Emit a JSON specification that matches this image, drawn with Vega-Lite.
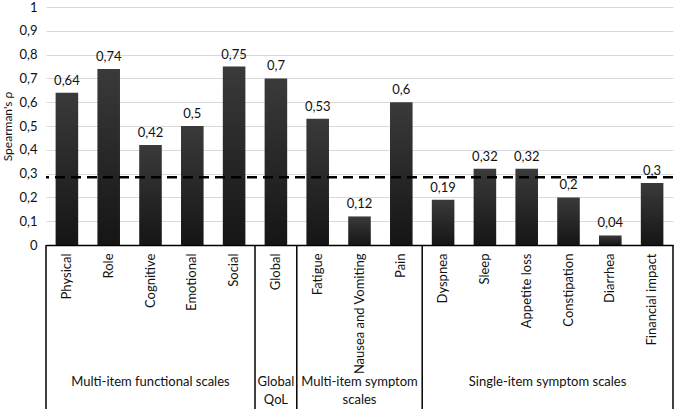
{
  "$schema": "https://vega.github.io/schema/vega-lite/v6.json",
  "width": 627,
  "height": 238,
  "autosize": "none",
  "padding": {"left": 46, "top": 7, "right": 4, "bottom": 164},
  "config": {
    "view": {"stroke": null},
    "font": "Lato",
    "text": {"font": "Lato", "fontSize": 13, "color": "#111"}
  },
  "datasets": {
    "bars": [
      {"scale": "Physical", "group": "Multi-item functional scales", "rho": 0.64, "label": "0,64"},
      {"scale": "Role", "group": "Multi-item functional scales", "rho": 0.74, "label": "0,74"},
      {"scale": "Cognitive", "group": "Multi-item functional scales", "rho": 0.42, "label": "0,42"},
      {"scale": "Emotional", "group": "Multi-item functional scales", "rho": 0.5, "label": "0,5"},
      {"scale": "Social", "group": "Multi-item functional scales", "rho": 0.75, "label": "0,75"},
      {"scale": "Global", "group": "Global QoL", "rho": 0.7, "label": "0,7"},
      {"scale": "Fatigue", "group": "Multi-item symptom scales", "rho": 0.53, "label": "0,53"},
      {"scale": "Nausea and Vomiting", "group": "Multi-item symptom scales", "rho": 0.12, "label": "0,12"},
      {"scale": "Pain", "group": "Multi-item symptom scales", "rho": 0.6, "label": "0,6"},
      {"scale": "Dyspnea", "group": "Single-item symptom scales", "rho": 0.19, "label": "0,19"},
      {"scale": "Sleep", "group": "Single-item symptom scales", "rho": 0.32, "label": "0,32"},
      {"scale": "Appetite loss", "group": "Single-item symptom scales", "rho": 0.32, "label": "0,32"},
      {"scale": "Constipation", "group": "Single-item symptom scales", "rho": 0.2, "label": "0,2"},
      {"scale": "Diarrhea", "group": "Single-item symptom scales", "rho": 0.04, "label": "0,04"},
      {"scale": "Financial impact", "group": "Single-item symptom scales", "rho": 0.26, "label": "0,3"}
    ],
    "threshold": [{"thr": 0.285}],
    "dividersStart": [{"at": "Physical"}, {"at": "Global"}, {"at": "Fatigue"}, {"at": "Dyspnea"}],
    "dividersEnd": [{"at": "Financial impact"}],
    "groupsCentered": [
      {"name": "Multi-item functional scales", "at": "Cognitive"},
      {"name": "Global\nQoL", "at": "Global"},
      {"name": "Multi-item symptom\nscales", "at": "Nausea and Vomiting"}
    ],
    "groupsBetween": [
      {"name": "Single-item symptom scales", "at": "Constipation"}
    ]
  },
  "layer": [
    {
      "data": {"name": "bars"},
      "mark": {"type": "bar", "width": {"band": 0.54},
        "color": {"gradient": "linear", "x1": 0, "y1": 0, "x2": 0, "y2": 1,
          "stops": [{"offset": 0, "color": "#3a3a3a"}, {"offset": 1, "color": "#151515"}]}},
      "encoding": {
        "x": {"field": "scale", "type": "nominal", "sort": null,
          "scale": {"domain": ["Physical", "Role", "Cognitive", "Emotional", "Social", "Global", "Fatigue", "Nausea and Vomiting", "Pain", "Dyspnea", "Sleep", "Appetite loss", "Constipation", "Diarrhea", "Financial impact"], "paddingInner": 0, "paddingOuter": 0},
          "axis": {"title": null, "labelAngle": -90, "labelFont": "Lato", "labelFontSize": 13, "labelColor": "#111", "labelPadding": 8, "ticks": false, "domainColor": "#000", "domainWidth": 1.5, "labelLimit": 200}},
        "y": {"field": "rho", "type": "quantitative", "scale": {"domain": [0, 1], "nice": false},
          "axis": {"title": "Spearman's ρ", "titleFont": "Lato", "titleFontSize": 12, "titleFontWeight": "normal", "titleColor": "#111", "titlePadding": 4,
            "tickCount": 10, "tickMinStep": 0.1,
            "labelOverlap": false,
            "labelExpr": "replace(format(datum.value, '.1~f'), '.', ',')",
            "labelFont": "Lato", "labelFontSize": 13, "labelColor": "#111", "labelPadding": 9,
            "ticks": false, "domain": false, "grid": true, "gridColor": "#d9d9d9", "gridWidth": 1}}
      }
    },
    {
      "data": {"name": "bars"},
      "mark": {"type": "text", "baseline": "bottom", "dy": -5, "fontSize": 13},
      "encoding": {
        "x": {"field": "scale", "type": "nominal", "sort": null},
        "y": {"field": "rho", "type": "quantitative", "scale": {"domain": [0, 1], "nice": false}},
        "text": {"field": "label"}
      }
    },
    {
      "data": {"name": "threshold"},
      "mark": {"type": "rule", "strokeDash": [10, 6], "strokeWidth": 2.5, "color": "#000"},
      "encoding": {
        "y": {"field": "thr", "type": "quantitative", "scale": {"domain": [0, 1], "nice": false}}
      }
    },
    {
      "data": {"name": "dividersStart"},
      "mark": {"type": "rule", "strokeWidth": 1.5, "color": "#000"},
      "encoding": {
        "x": {"field": "at", "type": "nominal", "sort": null, "bandPosition": 0},
        "y": {"datum": 0, "type": "quantitative", "scale": {"domain": [0, 1], "nice": false}},
        "y2": {"datum": -0.7}
      }
    },
    {
      "data": {"name": "dividersEnd"},
      "mark": {"type": "rule", "strokeWidth": 1.5, "color": "#000"},
      "encoding": {
        "x": {"field": "at", "type": "nominal", "sort": null, "bandPosition": 1},
        "y": {"datum": 0, "type": "quantitative", "scale": {"domain": [0, 1], "nice": false}},
        "y2": {"datum": -0.7}
      }
    },
    {
      "data": {"name": "groupsCentered"},
      "mark": {"type": "text", "baseline": "top", "lineBreak": "\n", "lineHeight": 18, "fontSize": 13},
      "encoding": {
        "x": {"field": "at", "type": "nominal", "sort": null, "bandPosition": 0.5},
        "y": {"datum": -0.55, "type": "quantitative", "scale": {"domain": [0, 1], "nice": false}},
        "text": {"field": "name"}
      }
    },
    {
      "data": {"name": "groupsBetween"},
      "mark": {"type": "text", "baseline": "top", "lineBreak": "\n", "lineHeight": 18, "fontSize": 13},
      "encoding": {
        "x": {"field": "at", "type": "nominal", "sort": null, "bandPosition": 0},
        "y": {"datum": -0.55, "type": "quantitative", "scale": {"domain": [0, 1], "nice": false}},
        "text": {"field": "name"}
      }
    }
  ]
}
